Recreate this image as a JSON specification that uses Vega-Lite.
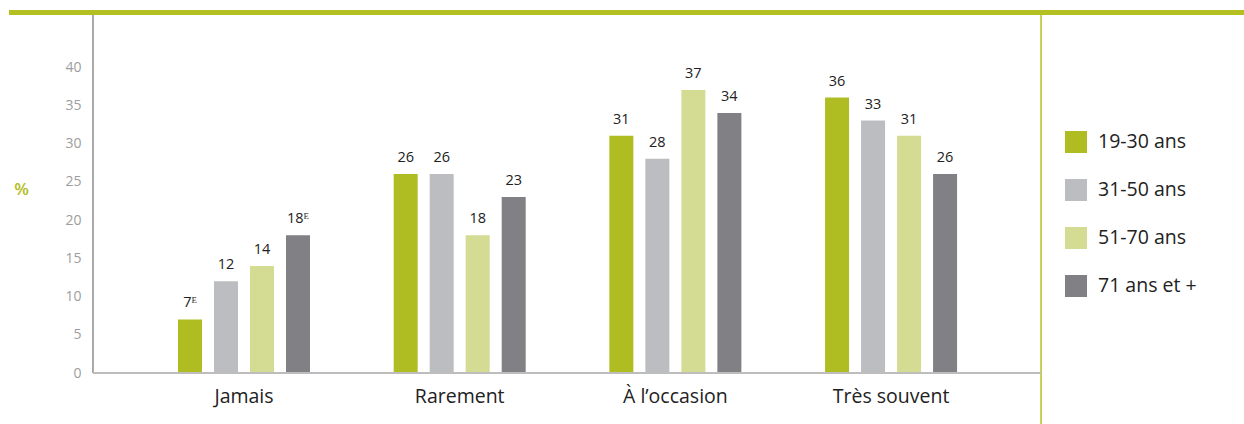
{
  "$schema": "https://vega.github.io/schema/vega-lite/v6.json",
  "width": 1235,
  "height": 409,
  "autosize": {"type": "none"},
  "padding": {"left": 9, "top": 15, "right": 0, "bottom": 0},
  "background": "white",
  "config": {
    "view": {"stroke": null},
    "font": "Open Sans",
    "text": {"font": "Open Sans"}
  },
  "data": {
    "values": [
      {"cat": "Jamais", "age": "19-30 ans", "value": 7, "label": "7ᴱ"},
      {"cat": "Jamais", "age": "31-50 ans", "value": 12, "label": "12"},
      {"cat": "Jamais", "age": "51-70 ans", "value": 14, "label": "14"},
      {"cat": "Jamais", "age": "71 ans et +", "value": 18, "label": "18ᴱ"},
      {"cat": "Rarement", "age": "19-30 ans", "value": 26, "label": "26"},
      {"cat": "Rarement", "age": "31-50 ans", "value": 26, "label": "26"},
      {"cat": "Rarement", "age": "51-70 ans", "value": 18, "label": "18"},
      {"cat": "Rarement", "age": "71 ans et +", "value": 23, "label": "23"},
      {"cat": "À l’occasion", "age": "19-30 ans", "value": 31, "label": "31"},
      {"cat": "À l’occasion", "age": "31-50 ans", "value": 28, "label": "28"},
      {"cat": "À l’occasion", "age": "51-70 ans", "value": 37, "label": "37"},
      {"cat": "À l’occasion", "age": "71 ans et +", "value": 34, "label": "34"},
      {"cat": "Très souvent", "age": "19-30 ans", "value": 36, "label": "36"},
      {"cat": "Très souvent", "age": "31-50 ans", "value": 33, "label": "33"},
      {"cat": "Très souvent", "age": "51-70 ans", "value": 31, "label": "31"},
      {"cat": "Très souvent", "age": "71 ans et +", "value": 26, "label": "26"}
    ]
  },
  "encoding": {
    "x": {
      "field": "cat",
      "type": "nominal",
      "sort": ["Jamais", "Rarement", "À l’occasion", "Très souvent"],
      "scale": {"paddingInner": 0.0541, "paddingOuter": 0.89, "align": 0.3464, "round": false},
      "axis": {
        "title": null,
        "orient": "bottom",
        "offset": -51,
        "domain": false,
        "ticks": false,
        "labelAngle": 0,
        "labelFontSize": 19.5,
        "labelColor": "#222222",
        "labelPadding": 14,
        "labelFont": "Open Sans"
      }
    }
  },
  "layer": [
    {
      "mark": {"type": "bar"},
      "encoding": {
        "xOffset": {
          "field": "age",
          "type": "nominal",
          "sort": ["19-30 ans", "31-50 ans", "51-70 ans", "71 ans et +"],
          "scale": {"paddingInner": 0.3333, "paddingOuter": 1, "round": false}
        },
        "y": {
          "field": "value",
          "type": "quantitative",
          "scale": {"domain": [-6.667, 46.8], "nice": false, "zero": false},
          "axis": {
            "orient": "left",
            "offset": -84,
            "values": [0, 5, 10, 15, 20, 25, 30, 35, 40],
            "domain": false,
            "ticks": false,
            "grid": false,
            "labelColor": "#9d9d9d",
            "labelFontSize": 14,
            "labelPadding": 12,
            "labelFont": "Open Sans",
            "title": "%",
            "titleAngle": 0,
            "titleColor": "#b1bd22",
            "titleFontSize": 17,
            "titleFontWeight": 600,
            "titleAlign": "center",
            "titleBaseline": "middle",
            "titleX": -72,
            "titleY": 174
          }
        },
        "color": {
          "field": "age",
          "type": "nominal",
          "sort": ["19-30 ans", "31-50 ans", "51-70 ans", "71 ans et +"],
          "scale": {
            "domain": ["19-30 ans", "31-50 ans", "51-70 ans", "71 ans et +"],
            "range": ["#afbd22", "#bcbdc1", "#d4db93", "#808085"]
          },
          "legend": {
            "orient": "none",
            "legendX": 1056,
            "legendY": 116,
            "title": null,
            "padding": 0,
            "symbolType": "square",
            "symbolSize": 484,
            "symbolStrokeWidth": 0,
            "labelFontSize": 19.5,
            "labelColor": "#222222",
            "labelFont": "Open Sans",
            "labelOffset": 11,
            "rowPadding": 26
          }
        }
      }
    },
    {
      "mark": {"type": "text", "baseline": "alphabetic", "dy": -12, "fontSize": 14.5, "color": "#222222", "font": "Open Sans"},
      "encoding": {
        "xOffset": {
          "field": "age",
          "type": "nominal",
          "sort": ["19-30 ans", "31-50 ans", "51-70 ans", "71 ans et +"],
          "scale": {"paddingInner": 0.3333, "paddingOuter": 1, "round": false}
        },
        "y": {"field": "value", "type": "quantitative"},
        "text": {"field": "label", "type": "nominal"}
      }
    },
    {
      "data": {"values": [{}]},
      "mark": {"type": "rule", "color": "#b4bf22", "strokeWidth": 5},
      "encoding": {
        "x": null,
        "y": {"datum": 47.12, "type": "quantitative"}
      }
    },
    {
      "data": {"values": [{}]},
      "mark": {"type": "rule", "color": "#8c8c8c", "strokeWidth": 1.5},
      "encoding": {
        "x": {"datum": "Jamais", "bandPosition": -0.2402},
        "y": {"datum": 0, "type": "quantitative"},
        "y2": {"datum": 46.8}
      }
    },
    {
      "data": {"values": [{}]},
      "mark": {"type": "rule", "color": "#b4bf22", "strokeWidth": 1.5},
      "encoding": {
        "x": {"datum": "Très souvent", "bandPosition": 1.2353}
      }
    },
    {
      "data": {"values": [{}]},
      "mark": {"type": "rule", "color": "#bdbdbd", "strokeWidth": 2},
      "encoding": {
        "x": {"datum": "Jamais", "bandPosition": -0.2402},
        "x2": {"datum": "Très souvent", "bandPosition": 1.2353},
        "y": {"datum": 0, "type": "quantitative"}
      }
    }
  ]
}
